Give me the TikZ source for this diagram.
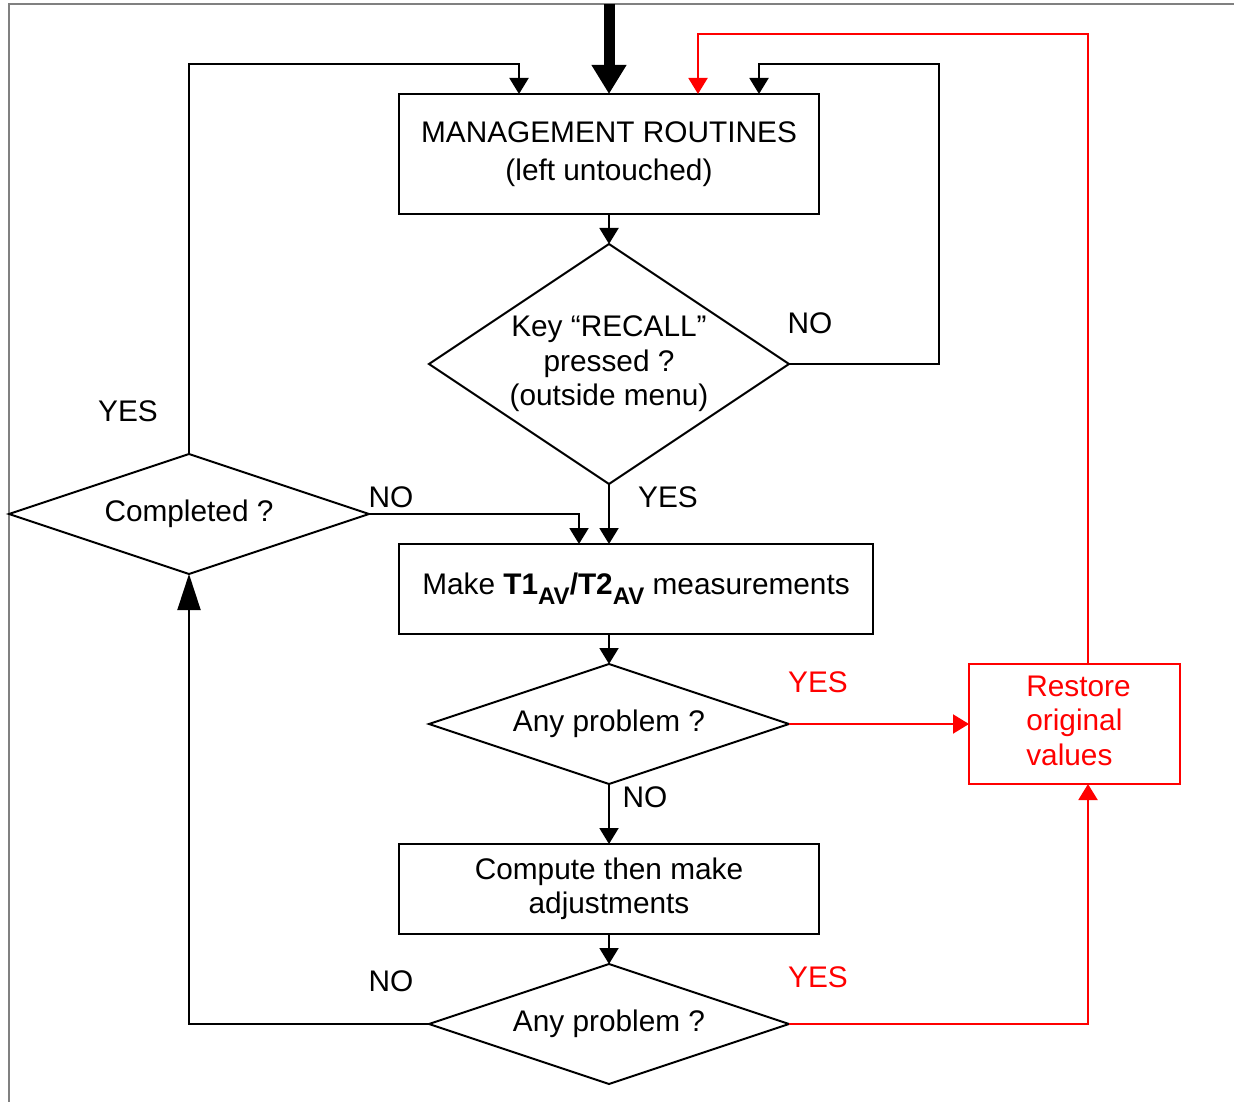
\documentclass[tikz,border=0pt]{standalone}
\usepackage{fontspec}
\setmainfont{Liberation Sans}
\usetikzlibrary{arrows.meta}
\usetikzlibrary{shapes.geometric}
\usetikzlibrary{calc}

\begin{document}
\begin{tikzpicture}
[x=1pt,y=-1pt,font=\fontsize{29.8}{34.5}\selectfont,
  boxdecorate/.style={draw,line width=2pt,inner sep=0pt,outer sep=0pt,align=center},
  testdecorate/.style={draw,diamond,aspect=3,line width=2pt,inner sep=0pt,outer sep=0pt,
    align=center,minimum width=360pt},
  linedecorate/.style={line width=2pt,-{Triangle[width=19pt,length=16pt]}},
  reddecorate/.style={linedecorate,red}]
\useasboundingbox (0,0) rectangle (1234,1102);
%% page frame
\draw[gray,line width=2pt] (9,1102) -- (9,4) -- (1234,4);
%% boxes and tests
\node (routines) at (609,154) [boxdecorate,minimum width=420pt,minimum height=120pt]
  {MANAGEMENT ROUTINES\\[3.5pt](left untouched)};
\node (recall) at (609,364) [testdecorate,aspect=1.5,minimum height=240pt]
  {Key “RECALL”\\pressed ?\\(outside menu)};
\node (measure) at (636,589) [boxdecorate,minimum width=474pt,minimum height=90pt]
  {Make \textbf{T1\raisebox{-10pt}{\fontsize{24}{24}\selectfont AV}/T2\raisebox{-10pt}{\fontsize{24}{24}\selectfont AV}} measurements};
\node (problem1) at (609,724) [testdecorate,minimum height=120pt] {Any problem ?};
\node (restore) at (1074.5,724) [boxdecorate,red,minimum width=211pt,minimum height=120pt]
  {\hspace*{8pt}\begin{tabular}{@{}l@{}}Restore\\original\\values\end{tabular}};
\node (adjust) at (609,889) [boxdecorate,minimum width=420pt,minimum height=90pt]
  {Compute then make\\adjustments};
\node (problem2) at (609,1024) [testdecorate,minimum height=120pt] {Any problem ?};
\node (completed) at (189,514) [testdecorate,minimum height=120pt] {Completed ?};
%% labels
\foreach \labelname/\x/\y/\txt/\col in {recallno/810/323/NO/black, recallyes/668/497/YES/black,
  completedno/391/497/NO/black, completedyes/128/411/YES/black, problem1yes/818/682/YES/red,
  problem1no/645/797/NO/black, problem2no/391/981/NO/black, problem2yes/818/977/YES/red}
{
  \node (\labelname) at (\x,\y) [text=\col,inner sep=0pt] {\txt};
}
%% connectors
\coordinate (entry) at (609,4);
\draw[line width=11pt,-{Triangle[width=33pt,length=29pt]}] (entry) -- (routines.north);
\draw[linedecorate] (routines.south) -- (recall.north);
\draw[linedecorate] (recall.south) -- (recall.south |- measure.north);
\draw[linedecorate] (measure.south -| problem1.north) -- (problem1.north);
\draw[linedecorate] (problem1.south) -- (adjust.north);
\draw[linedecorate] (adjust.south) -- (problem2.north);
\draw[linedecorate] (recall.east) -| ([xshift=330pt,yshift=30pt]routines.north)
  -| ([xshift=150pt]routines.north);
\draw[linedecorate] (completed.north) |- ([xshift=-90pt,yshift=30pt]routines.north)
  -- ([xshift=-90pt]routines.north);
\draw[linedecorate] (completed.east) -| ([xshift=180pt]measure.north west);
\draw[line width=2pt,-{Triangle[width=23pt,length=36pt]}] (problem2.west) -| (completed.south);
\draw[reddecorate] (problem1.east) -- (restore.west);
\draw[reddecorate] (problem2.east) -| ([xshift=13.5pt]restore.south);
\draw[reddecorate] ([xshift=13.5pt]restore.north) |- ([xshift=89pt,yshift=60pt]routines.north)
  -- ([xshift=89pt]routines.north);
\end{tikzpicture}
\end{document}
